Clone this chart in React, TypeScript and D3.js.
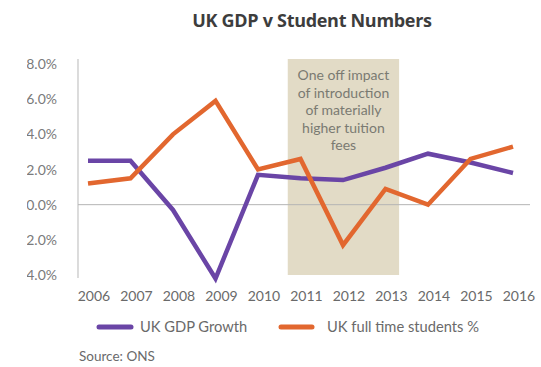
import React from "react";
import * as d3 from "d3";

const years = [2006, 2007, 2008, 2009, 2010, 2011, 2012, 2013, 2014, 2015, 2016];
const gdpGrowth = [2.5, 2.5, -0.3, -4.2, 1.7, 1.5, 1.4, 2.1, 2.9, 2.4, 1.8];
const studentsPct = [1.2, 1.5, 4.0, 5.9, 2.0, 2.6, -2.3, 0.9, 0.0, 2.6, 3.3];
const yTicks = [8, 6, 4, 2, 0, -2, -4];
const annotationYears = [2011, 2013];
const annotationLines = ["One off impact", "of introduction", "of materially", "higher tuition", "fees"];
const seriesNames = ["UK GDP Growth", "UK full time students %"];

const W = 541;
const H = 367;
const FONT = "Lato, 'Open Sans', sans-serif";
const PURPLE = "#6a45a6";
const ORANGE = "#e2672f";

export default function App() {
  const x = d3.scaleLinear().domain([2006, 2016]).range([88, 513]);
  const y = d3.scaleLinear().domain([-4, 8]).range([275, 64]);
  const line = d3
    .line<[number, number]>()
    .x((d) => x(d[0]))
    .y((d) => y(d[1]));
  const gdpPts = years.map((yr, i) => [yr, gdpGrowth[i]] as [number, number]);
  const stuPts = years.map((yr, i) => [yr, studentsPct[i]] as [number, number]);
  const step = x(2007) - x(2006);
  const boxX0 = x(annotationYears[0]) - step * 0.3;
  const boxX1 = x(annotationYears[1]) + step * 0.32;

  return (
    <svg
      width={W}
      height={H}
      style={{ position: "absolute", left: 0, top: 0, background: "#fff" }}
      fontFamily={FONT}
    >
      <defs>
        <clipPath id="ylab">
          <rect x={27} y={0} width={60} height={H} />
        </clipPath>
      </defs>
      <rect x={0} y={0} width={W} height={H} fill="#fff" />
      <text
        x={312}
        y={27}
        textAnchor="middle"
        fontSize={18}
        fontWeight={700}
        fill="#3d3d3d"
        fontFamily="'Open Sans', sans-serif"
        letterSpacing={-0.3}
      >
        UK GDP v Student Numbers
      </text>

      {/* annotation box */}
      <rect x={boxX0} y={59} width={boxX1 - boxX0} height={216} fill="#e2dbc6" />
      {annotationLines.map((t, i) => (
        <text
          key={t}
          x={(boxX0 + boxX1) / 2}
          y={80 + i * 17.5}
          textAnchor="middle"
          fontSize={14}
          fill="#7a7a72"
        >
          {t}
        </text>
      ))}

      {/* y axis */}
      <line x1={78} x2={78} y1={y(8) - 5} y2={y(-4) + 3} stroke="#c4c4c4" strokeWidth={1.2} />
      <line x1={78} x2={530} y1={y(0)} y2={y(0)} stroke="#b5b5b5" strokeWidth={1} />
      <g clipPath="url(#ylab)">
        {yTicks.map((t) => (
          <text
            key={t}
            x={57}
            y={y(t) + 5}
            textAnchor="end"
            fontSize={14}
            fill="#7a7a7a"
          >
            {d3.format(".1f")(t) + "%"}
          </text>
        ))}
      </g>

      {/* x labels */}
      {years.map((yr) => (
        <text key={yr} x={x(yr) + 6} y={301} textAnchor="middle" fontSize={14} fill="#6a6a6a">
          {yr}
        </text>
      ))}

      {/* lines */}
      <path d={line(gdpPts) ?? ""} fill="none" stroke={PURPLE} strokeWidth={4.5} strokeLinejoin="miter" />
      <path d={line(stuPts) ?? ""} fill="none" stroke={ORANGE} strokeWidth={4.5} strokeLinejoin="miter" />

      {/* legend */}
      <line x1={99} x2={131} y1={327} y2={327} stroke={PURPLE} strokeWidth={5} strokeLinecap="round" />
      <text x={140} y={332} fontSize={14.7} fill="#6a6a6a">
        {seriesNames[0]}
      </text>
      <line x1={281} x2={312} y1={327} y2={327} stroke={ORANGE} strokeWidth={5} strokeLinecap="round" />
      <text x={327} y={332} fontSize={14.7} fill="#6a6a6a">
        {seriesNames[1]}
      </text>

      <text x={79} y={361} fontSize={13.5} fill="#6a6a6a">
        Source: ONS
      </text>
    </svg>
  );
}
